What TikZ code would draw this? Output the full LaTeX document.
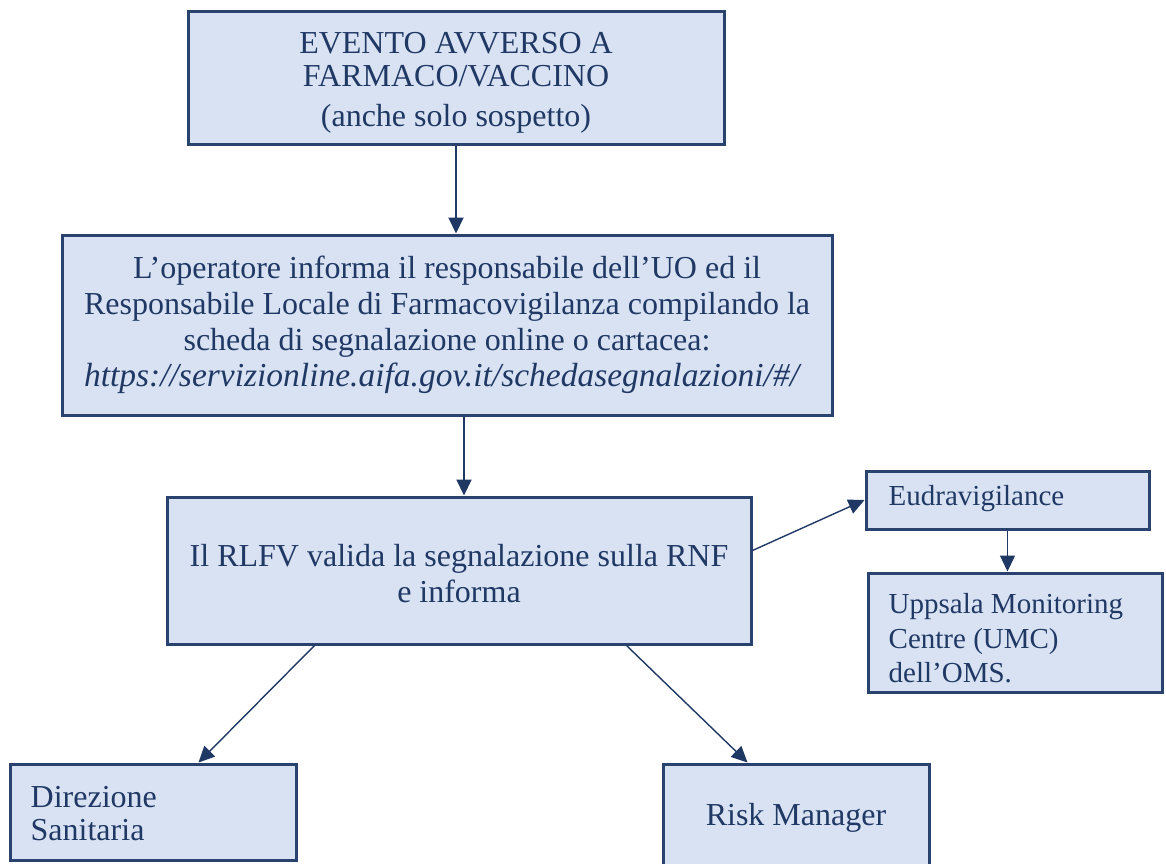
\documentclass[tikz,border=0pt]{standalone}
\usepackage{fontspec}
\setmainfont{Liberation Serif}
\usetikzlibrary{arrows.meta,calc}
\definecolor{navy}{HTML}{1F3864}
\definecolor{boxfill}{HTML}{D9E2F3}
\definecolor{edge}{HTML}{2A426E}
\begin{document}
\begin{tikzpicture}[x=1pt,y=-1pt,
  box/.style={draw=edge,line width=3pt,fill=boxfill,rectangle,inner sep=0pt},
  ctext/.style={text=navy,inner sep=0pt,align=center},
  label/.style={text=navy,inner sep=0pt,align=left,anchor=west},
  big/.style={font=\fontsize{32}{33.5}\selectfont},
  small/.style={font=\fontsize{29}{34.5}\selectfont},
  flow/.style={draw=navy,line width=2pt,-{Triangle[length=16pt,width=15pt]}},
  thin/.style={draw=navy,line width=1.4pt,-{Triangle[length=16pt,width=15pt]}}]
\useasboundingbox (0,0) rectangle (1166,863);

% top event box
\node[box,minimum width=536pt,minimum height=133pt] (ev) at (456,77.5) {};
\node[ctext,big] (evt) at ($(ev.center)+(0,5)$)
  {EVENTO AVVERSO A\\FARMACO/VACCINO\\[6pt](anche solo sospetto)};

% reporting box
\node[box,minimum width=770pt,minimum height=180pt] (op) at (447,325) {};
\node[ctext,font=\fontsize{32}{36}\selectfont] (opt) at (op.center)
  {L’operatore informa il responsabile dell’UO ed il\\
   Responsabile Locale di Farmacovigilanza compilando la\\
   scheda di segnalazione online o cartacea:\\
   \hspace*{-11pt}{\fontsize{33.5}{36}\selectfont\itshape https://servizionline.aifa.gov.it/schedasegnalazioni/\#/}};

% validation box
\node[box,minimum width=584pt,minimum height=147pt] (rl) at (459,570.5) {};
\node[ctext,font=\fontsize{32}{36}\selectfont] (rlt) at ($(rl.center)+(0,3)$)
  {Il RLFV valida la segnalazione sulla RNF\\e informa};

% European and WHO databases
\node[box,minimum width=283pt,minimum height=58pt] (eu) at (1007.5,500) {};
\node[label,small] (eut) at ($(eu.west)+(24,-1)$) {Eudravigilance};
\node[box,minimum width=294pt,minimum height=119pt] (um) at (1015,632.5) {};
\node[label,small] (umt) at ($(um.west)+(22,6)$)
  {Uppsala Monitoring\\Centre (UMC)\\dell’OMS.};

% recipients
\node[box,minimum width=286pt,minimum height=96pt] (ds) at (153,812) {};
\node[label,big] (dst) at ($(ds.west)+(22,1.5)$) {Direzione\\Sanitaria};
\node[box,minimum width=266pt,minimum height=110pt] (rm) at (796,819) {};
\node[ctext,big] (rmt) at ($(rm.center)+(0,-1)$) {Risk Manager};

% connector end points
\coordinate (opout) at ($(op.south)+(17,0)$);
\coordinate (rlin) at (opout |- rl.north);
\coordinate (rlright) at ($(rl.east)+(0,-20)$);
\coordinate (rlleft) at ($(rl.south west)+(149,0)$);
\coordinate (rlmid) at ($(rl.south west)+(461,0)$);
\coordinate (dsin) at ($(ds.north west)+(190,0)$);
\coordinate (rmin) at ($(rm.north west)+(86,0)$);

% connectors
\draw[flow] (ev.south) -- (ev.south |- op.north);
\draw[flow] (opout) -- (rlin);
\draw[thin] (rlright) -- (eu.west);
\draw[thin] (eu.south) -- (eu.south |- um.north);
\draw[thin] (rlleft) -- (dsin);
\draw[thin] (rlmid) -- (rmin);
\end{tikzpicture}
\end{document}
